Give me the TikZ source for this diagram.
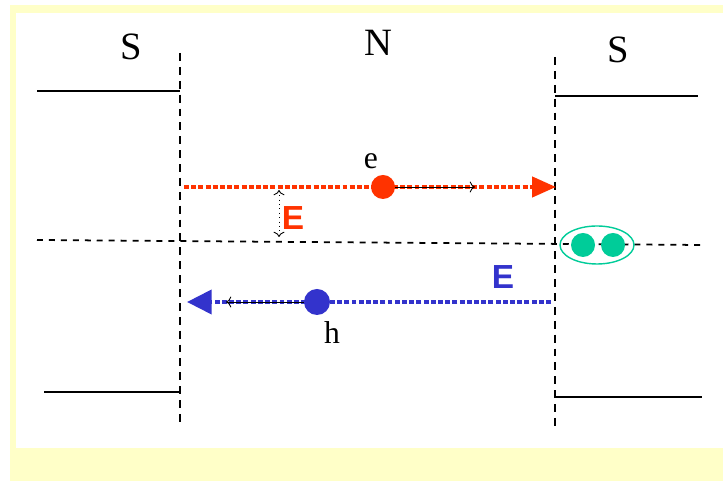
\documentclass[tikz,border=0pt]{standalone}
\usepackage{fontspec}
\setmainfont{Liberation Serif}
\newfontfamily\labfont{Liberation Sans}
\usetikzlibrary{arrows.meta}
\definecolor{elred}{RGB}{255,51,0}
\definecolor{hblue}{RGB}{51,51,204}
\definecolor{pairgreen}{RGB}{0,204,153}
\definecolor{slide}{RGB}{255,255,200}

\begin{document}
\begin{tikzpicture}[
    gap/.style={line width=1pt, dash pattern=on 4.5pt off 3.4pt},
    mid/.style={line width=1pt, dash pattern=on 3.4pt off 3.4pt},
    level/.style={line width=1.1pt},
    track/.style={line width=2.3pt, dash pattern=on 2.8pt off 1.3pt},
    move/.style={line width=0.5pt, -{To[length=3pt]}},
    side/.style={font=\fontsize{22}{26}\selectfont},
    carrier/.style={text=black, font=\fontsize{18}{22}\selectfont},
    field/.style={font=\labfont\bfseries\fontsize{19}{22}\selectfont},
  ]
  \useasboundingbox (0,0) rectangle (14.46,9.62);
  \fill[slide] (0.2,0) rectangle (14.46,9.52);
  \fill[white] (0.32,0.66) rectangle (14.46,9.36);

  % INTERFACES
  \draw[gap] (3.6,8.56) -- (3.6,1.12);
  \draw[gap] (11.1,8.48) -- (11.1,1.08);

  % GAP EDGES
  \draw[level] (0.74,7.8) -- (3.6,7.8);
  \draw[level] (11.1,7.7) -- (13.96,7.7);
  \draw[level] (0.88,1.78) -- (3.6,1.78);
  \draw[level] (11.1,1.68) -- (14.04,1.68);

  % FERMI LEVEL
  \draw[mid] (0.74,4.82) -- (14.02,4.72);

  % ELECTRON
  \coordinate (ein)  at (3.68,5.88);
  \coordinate (eout) at (11.12,5.88);
  \draw[track, elred, -{Triangle[length=13.6pt,width=11.4pt]}] (ein) -- (eout);
  \fill[elred] (7.66,5.88) circle (0.24)
  +(0,0)        node[circle, inner sep=0, minimum size=0.48cm] (edot) {}  % used to start the arrow
  +(-0.24,0.52) node[carrier] (lble) {e}
  ;

  % HOLE
  \coordinate (hin)  at (11.02,3.58);
  \coordinate (hout) at (3.74,3.58);
  \draw[track, hblue, -{Triangle[length=14pt,width=13.6pt]}] (hin) -- (hout);
  \fill[hblue] (6.34,3.58) circle (0.26)
  +(0,0)        node[circle, inner sep=0, minimum size=0.52cm] (hdot) {}  % used to start the arrow
  +(0.3,-0.62)  node[carrier] (lblh) {h}
  ;

  % COOPER PAIR
  \draw[pairgreen, line width=0.8pt] (11.94,4.72) ellipse (0.74 and 0.38);
  \fill[pairgreen] (11.66,4.72) circle (0.24)
  +(0,0) node (pdot1) {};
  \fill[pairgreen] (12.26,4.72) circle (0.24)
  +(0,0) node (pdot2) {};

  % ARROWS
  \coordinate (epush) at (9.5,5.88);
  \coordinate (hpush) at (4.52,3.58);
  \coordinate (gtop)  at (5.58,5.82);
  \coordinate (gbot)  at (5.58,4.88);
  \draw[move] (edot) -- (epush);
  \draw[move] (hdot) -- (hpush);
  \draw[line width=0.5pt, dotted, {To[length=3pt]}-{To[length=3pt]}] (gtop) -- (gbot);

  % NOTES
  \draw (2.62,8.68) node[side] (lblSL) {S};
  \draw (7.56,8.76) node[side] (lblN) {N};
  \draw (12.36,8.62) node[side] (lblSR) {S};
  \draw (5.86,5.26) node[field, elred] (lblEe) {E};
  \draw (10.06,4.08) node[field, hblue] (lblEh) {E};

\end{tikzpicture}
\end{document}
